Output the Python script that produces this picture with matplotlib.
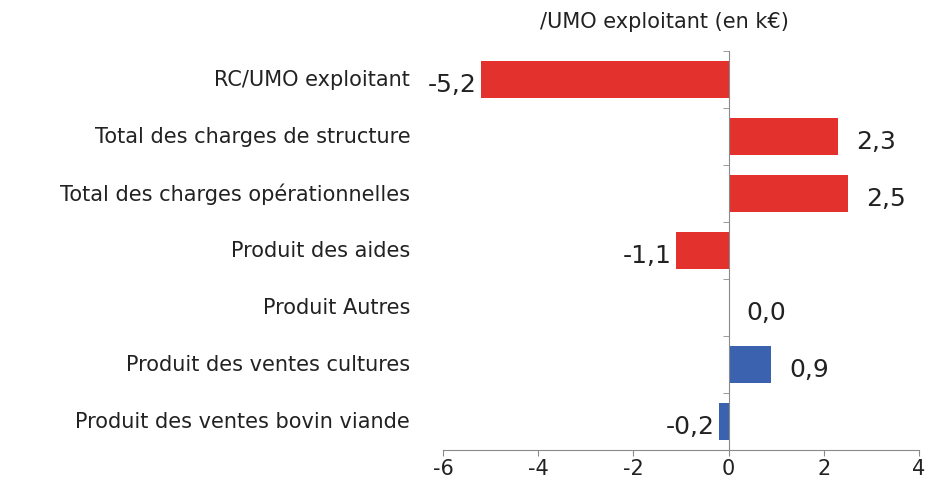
import matplotlib.pyplot as plt
from matplotlib.transforms import blended_transform_factory

categories = ["RC/UMO exploitant",
              "Total des charges de structure",
              "Total des charges opérationnelles",
              "Produit des aides",
              "Produit Autres",
              "Produit des ventes cultures",
              "Produit des ventes bovin viande"]
values = [-5.2, 2.3, 2.5, -1.1, 0.0, 0.9, -0.2]
bar_colors = ["#E3312D"] * 4 + ["#3A62AE"] * 3
xticks = [-6, -4, -2, 0, 2, 4]

fig = plt.figure(figsize=(9.25, 4.81), dpi=100)
ax = fig.add_axes([0.479, 0.0624, 0.5145, 0.8296])

n = len(categories)
ypos = list(range(n))[::-1]
ax.barh(ypos, values, height=0.66, color=bar_colors)

ax.set_xlim(-6, 4)
ax.set_ylim(-0.5, n - 0.5)

# value labels
for y, v in zip(ypos, values):
    txt = f"{v:.1f}".replace(".", ",")
    if v < 0:
        ax.annotate(txt, (v, y), xytext=(-3, -3), textcoords="offset points",
                    ha="right", va="center", fontsize=18, color="#222222")
    else:
        ax.annotate(txt, (v, y), xytext=(13, -3), textcoords="offset points",
                    ha="left", va="center", fontsize=18, color="#222222")

# category labels on the left, outside the axes
trans = blended_transform_factory(ax.transAxes, ax.transData)
for y, c in zip(ypos, categories):
    ax.text(-0.069, y, c, transform=trans, ha="right", va="center",
            fontsize=15, color="#222222")

for s in ["top", "right"]:
    ax.spines[s].set_visible(False)
ax.spines["left"].set_position(("data", 0))
ax.spines["left"].set_color("#8a8a8a")
ax.spines["bottom"].set_color("#8a8a8a")
ax.set_yticks([])
ax.set_yticks([i - 0.5 for i in range(n + 1)], minor=True)
ax.tick_params(axis="y", which="minor", direction="out", length=4, color="#8a8a8a")
ax.set_xticks(xticks)
ax.set_xticklabels([str(t) for t in xticks])
ax.tick_params(axis="x", length=4, color="#8a8a8a", labelsize=15, labelcolor="#222222", pad=2)

fig.text(0.718, 0.955, "/UMO exploitant (en k€)", ha="center", va="center",
         fontsize=15, color="#222222")

fig.savefig("out.png", dpi=100)
